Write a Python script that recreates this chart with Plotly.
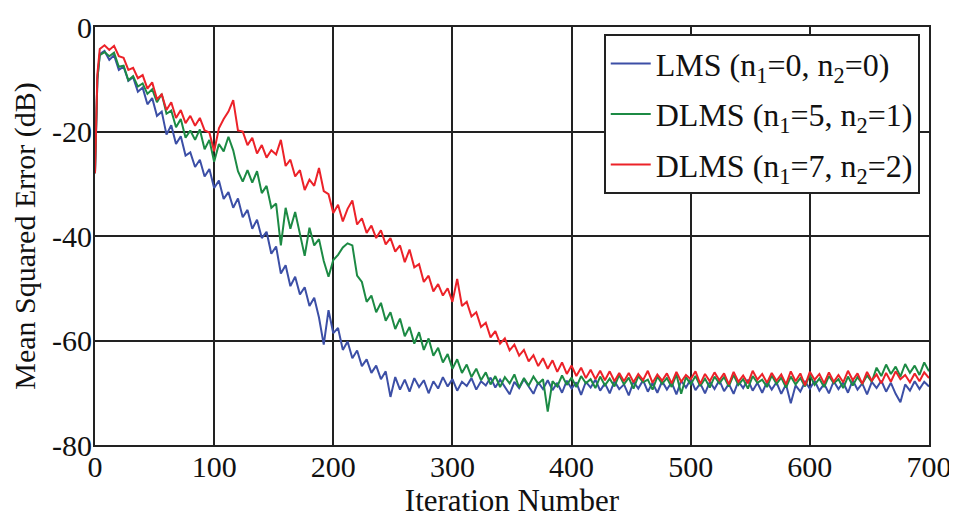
import plotly.graph_objects as go

iterations = [0, 2] + list(range(4, 701, 4))

lms = [
    -28.0, -10.0,
    -5.2, -4.6, -6.3, -5.4, -8.2, -7.6, -10.3, -9.6, -12.4, -11.6,      # 4-40
    -14.8, -13.6, -17.0, -16.2, -20.6, -18.8, -22.4, -20.9, -24.6, -24.0,  # 44-80
    -26.8, -25.4, -28.6, -27.2, -30.8, -29.4, -32.9, -31.6, -34.6, -32.8,  # 84-120
    -36.4, -35.0, -38.6, -36.9, -40.4, -39.2, -43.4, -42.0, -47.2, -45.6,  # 124-160
    -49.6, -47.8, -51.2, -49.8, -53.4, -51.8, -55.6, -60.8, -54.2, -58.6,  # 164-200
    -57.6, -61.8, -60.2, -63.4, -61.9, -64.9, -63.6, -66.2, -64.8, -67.4,  # 204-240
    -65.9, -70.8, -67.0, -69.4, -67.5, -69.8, -67.2, -68.9, -67.6, -70.1,  # 244-280
    -67.8, -69.2, -67.0, -68.8, -67.4, -69.6, -67.9, -68.7, -67.2, -69.4,  # 284-320
    -67.8, -68.6, -67.1, -69.0, -67.5, -68.9, -70.3, -67.9, -69.1, -67.4,  # 324-360
    -68.8, -70.2, -68.0, -69.3, -67.6, -69.5, -68.1, -70.0, -67.7, -69.2,  # 364-400
    -68.0, -70.4, -67.9, -69.0, -67.5, -69.6, -68.2, -70.1, -67.8, -69.3,  # 404-440
    -68.4, -70.5, -67.9, -69.2, -67.6, -69.8, -68.1, -70.0, -67.8, -69.4,  # 444-480
    -68.0, -70.3, -67.7, -69.0, -67.4, -69.5, -68.2, -70.1, -67.9, -69.3,  # 484-520
    -67.6, -69.7, -68.3, -70.2, -67.8, -69.1, -67.5, -69.6, -68.1, -70.0,  # 524-560
    -67.9, -69.4, -68.0, -70.2, -68.4, -72.0, -68.6, -69.8, -67.9, -69.2,  # 564-600
    -67.7, -69.6, -68.3, -70.1, -67.8, -69.3, -68.0, -70.0, -67.6, -69.4,  # 604-640
    -68.2, -70.3, -67.9, -69.1, -67.7, -69.8, -68.1, -70.2, -71.8, -68.4,  # 644-680
    -69.6, -67.8, -69.3, -67.9, -68.8,                                     # 684-700
]

dlms_5_1 = [
    -28.0, -10.0,
    -5.4, -4.8, -5.6, -4.9, -7.6, -7.4, -10.2, -9.4, -11.4, -10.8,        # 4-40
    -12.8, -11.9, -14.4, -12.8, -16.6, -16.0, -19.2, -17.6, -21.2, -19.8,  # 44-80
    -21.6, -19.6, -23.4, -21.6, -25.8, -22.4, -23.8, -21.0, -23.6, -27.6,  # 84-120
    -29.6, -27.4, -29.8, -27.6, -31.8, -30.4, -34.6, -33.8, -41.8, -34.6,  # 124-160
    -38.6, -35.4, -39.6, -43.8, -38.4, -41.8, -40.6, -44.8, -47.8, -44.6,  # 164-200
    -43.6, -42.2, -41.4, -41.8, -47.6, -48.8, -52.6, -51.4, -54.6, -52.8,  # 204-240
    -56.2, -54.6, -57.8, -55.8, -59.2, -57.4, -60.6, -58.4, -61.8, -59.6,  # 244-280
    -62.9, -61.4, -64.2, -62.6, -65.4, -63.6, -66.2, -64.6, -67.0, -65.4,  # 284-320
    -67.6, -66.1, -68.4, -66.8, -68.9, -67.0, -68.2, -66.5, -69.0, -67.2,  # 324-360
    -68.6, -66.9, -68.3, -67.4, -73.6, -67.8, -68.8, -66.7, -68.5, -67.1,  # 364-400
    -68.9, -66.8, -68.2, -67.4, -69.1, -66.9, -68.6, -67.3, -68.8, -66.6,  # 404-440
    -68.4, -67.1, -69.2, -66.8, -68.0, -67.5, -69.4, -66.9, -68.3, -67.2,  # 444-480
    -68.9, -66.5, -70.2, -67.0, -68.4, -66.8, -68.7, -67.3, -69.0, -66.9,  # 484-520
    -68.2, -67.0, -68.8, -66.6, -68.5, -67.4, -69.2, -66.8, -68.1, -67.5,  # 524-560
    -68.9, -66.7, -68.3, -67.1, -69.0, -66.9, -68.4, -67.2, -68.8, -66.6,  # 564-600
    -68.5, -67.3, -68.9, -66.8, -68.2, -67.4, -69.1, -66.9, -68.6, -67.0,  # 604-640
    -68.3, -66.7, -67.9, -65.2, -66.8, -64.6, -66.4, -65.0, -66.9, -64.5,  # 644-680
    -66.2, -64.8, -66.6, -64.2, -65.9,                                     # 684-700
]

dlms_7_2 = [
    -28.0, -9.0,
    -4.2, -3.5, -4.4, -3.6, -5.6, -5.9, -8.2, -7.8, -9.8, -9.2,            # 4-40
    -11.8, -10.6, -13.8, -12.9, -15.9, -14.4, -17.4, -15.9, -18.4, -17.0,  # 44-80
    -18.9, -17.4, -19.8, -20.2, -23.8, -19.4, -17.6, -16.2, -14.0, -19.8,  # 84-120
    -20.0, -22.6, -21.2, -24.2, -22.6, -25.0, -23.6, -24.4, -21.6, -26.6,  # 124-160
    -25.4, -28.6, -27.4, -31.2, -29.2, -30.4, -27.0, -31.4, -32.0, -35.6,  # 164-200
    -34.0, -37.2, -34.8, -33.2, -37.8, -36.6, -39.4, -38.0, -40.4, -38.9,  # 204-240
    -41.6, -40.4, -43.0, -41.8, -45.0, -42.6, -46.0, -45.4, -48.8, -47.6,  # 244-280
    -50.6, -49.2, -51.4, -50.0, -52.6, -48.2, -53.4, -52.6, -55.4, -54.6,  # 284-320
    -57.4, -56.6, -59.4, -58.2, -60.6, -59.6, -61.9, -60.8, -62.9, -61.8,  # 324-360
    -64.0, -62.8, -64.9, -63.4, -65.4, -63.8, -66.0, -64.2, -66.4, -64.8,  # 364-400
    -66.8, -65.2, -67.2, -65.6, -67.4, -65.8, -67.6, -65.9, -67.8, -66.2,  # 404-440
    -67.8, -66.2, -68.0, -66.4, -67.6, -65.8, -68.1, -66.5, -67.7, -66.3,  # 444-480
    -68.2, -66.0, -67.9, -66.6, -67.4, -65.9, -68.3, -66.4, -67.8, -66.1,  # 484-520
    -67.6, -66.3, -68.4, -66.0, -67.9, -66.7, -68.2, -65.8, -67.5, -66.4,  # 524-560
    -68.1, -66.2, -67.7, -66.5, -68.4, -65.9, -67.8, -66.3, -68.6, -66.0,  # 564-600
    -67.5, -66.4, -68.2, -66.1, -67.9, -66.6, -68.0, -65.8, -67.6, -66.3,  # 604-640
    -68.3, -66.0, -67.7, -66.5, -68.2, -66.2, -67.9, -65.9, -67.4, -66.6,  # 644-680
    -68.0, -66.3, -67.8, -66.1, -67.2,                                     # 684-700
]

series_names = [
    "LMS (n<sub>1</sub>=0, n<sub>2</sub>=0)",
    "DLMS (n<sub>1</sub>=5, n<sub>2</sub>=1)",
    "DLMS (n<sub>1</sub>=7, n<sub>2</sub>=2)",
]
series_colors = ["#3c4fa6", "#1c8a44", "#ec2229"]

x_tick_vals = [0, 100, 200, 300, 400, 500, 600, 700]
x_tick_text = ["0", "100", "200", "300", "400", "500", "600", "700"]
y_tick_vals = [-80, -60, -40, -20, 0]
y_tick_text = ["-80", "-60", "-40", "-20", "0"]

FONT = "Liberation Serif"

fig = go.Figure()
for i, (vals, name, col) in enumerate(zip([lms, dlms_5_1, dlms_7_2], series_names, series_colors)):
    fig.add_trace(go.Scatter(
        x=iterations[:len(vals)], y=vals, mode="lines", name=name,
        line=dict(color=col, width=2),
        legendgroup=f"g{i}",
    ))

# The page body has an 8 px margin, so the figure is placed 8 px right/down.
fig.update_layout(
    width=957, height=512,
    margin=dict(l=87, r=36, t=19, b=75, autoexpand=False),
    paper_bgcolor="white", plot_bgcolor="white",
    font=dict(family=FONT, size=30, color="#111111"),
    showlegend=True,
    legend=dict(
        x=0.61, y=0.983, xanchor="left", yanchor="top",
        bgcolor="white", bordercolor="#222222", borderwidth=2,
        font=dict(family=FONT, size=32, color="#111111"),
        traceorder="grouped", tracegroupgap=6,
        itemwidth=40,
    ),
    xaxis=dict(
        range=[0, 700], tickvals=x_tick_vals, ticktext=x_tick_text,
        showgrid=True, gridcolor="#222222", gridwidth=2,
        showline=True, linecolor="#222222", linewidth=2, mirror=True,
        ticks="", zeroline=False, automargin=False, ticklabelstandoff=-6,
        tickfont=dict(family=FONT, size=30, color="#111111"),
        title=dict(text="Iteration Number", standoff=0,
                   font=dict(family=FONT, size=31, color="#111111")),
    ),
    yaxis=dict(
        range=[-80, 0], tickvals=y_tick_vals, ticktext=y_tick_text,
        showgrid=True, gridcolor="#222222", gridwidth=2,
        showline=True, linecolor="#222222", linewidth=2, mirror=True,
        ticks="", zeroline=False, automargin=False, ticklabelstandoff=-5,
        tickfont=dict(family=FONT, size=30, color="#111111"),
        title=dict(text="Mean Squared Error (dB)", standoff=8,
                   font=dict(family=FONT, size=30, color="#111111")),
    ),
)

fig.write_html("out.html")
